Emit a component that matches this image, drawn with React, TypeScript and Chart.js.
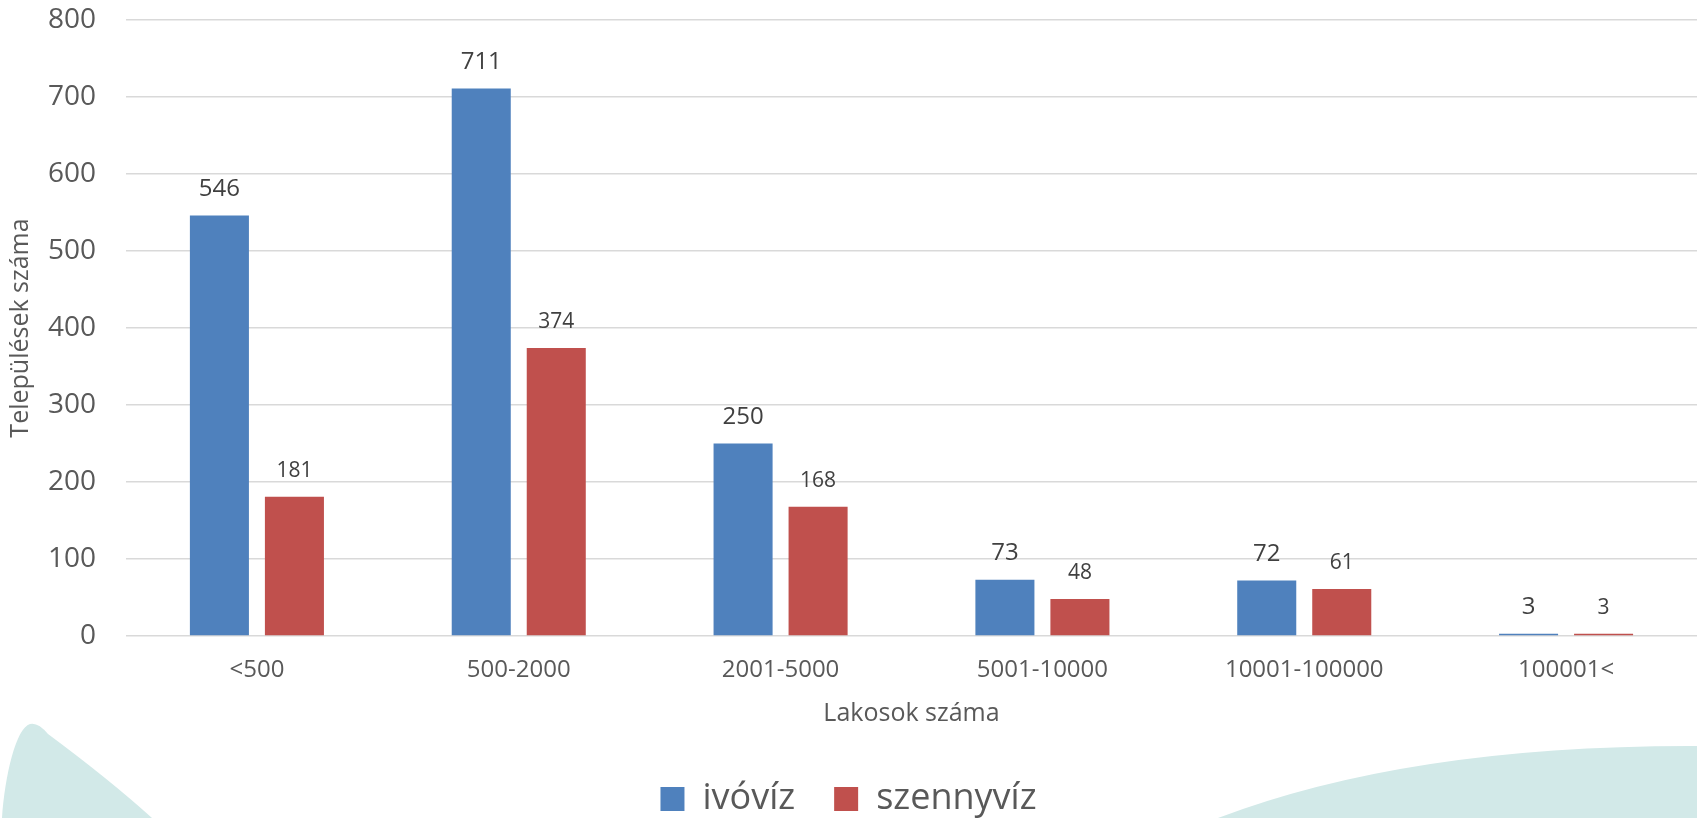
import React, { useEffect, useRef } from "react";
import { Chart, registerables } from "chart.js";

Chart.register(...registerables);

const categories = ["<500", "500-2000", "2001-5000", "5001-10000", "10001-100000", "100001<"];
const ivovizValues = [546, 711, 250, 73, 72, 3];
const szennyvizValues = [181, 374, 168, 48, 61, 3];
const seriesNames = ["ivóvíz", "szennyvíz"];
const yTitle = "Települések száma";
const xTitle = "Lakosok száma";

const W = 1697;
const H = 818;
const FONT = "'Open Sans', 'Noto Sans', sans-serif";

const backgroundPlugin = {
  id: "bgShapes",
  beforeDraw(chart: any) {
    const ctx = chart.ctx;
    ctx.save();
    ctx.fillStyle = "#ffffff";
    ctx.fillRect(0, 0, chart.width, chart.height);
    ctx.fillStyle = "#d2e9e8";
    // left wave
    ctx.beginPath();
    ctx.moveTo(2, 818);
    ctx.bezierCurveTo(5, 775, 16, 728, 30, 724);
    ctx.quadraticCurveTo(38, 722, 48, 734);
    ctx.quadraticCurveTo(110, 780, 152, 818);
    ctx.closePath();
    ctx.fill();
    // right curve
    ctx.beginPath();
    ctx.moveTo(1218, 818);
    ctx.quadraticCurveTo(1410, 745, 1697, 746);
    ctx.lineTo(1697, 818);
    ctx.closePath();
    ctx.fill();
    ctx.restore();
  },
};

const dataLabelPlugin = {
  id: "valueLabels",
  afterDatasetsDraw(chart: any) {
    const ctx = chart.ctx;
    ctx.save();
    ctx.fillStyle = "#404040";
    ctx.textAlign = "center";
    ctx.textBaseline = "alphabetic";
    chart.data.datasets.forEach((ds: any, di: number) => {
      const meta = chart.getDatasetMeta(di);
      ctx.font = `${di === 0 ? 24 : 21}px ${FONT}`;
      meta.data.forEach((el: any, i: number) => {
        ctx.fillText(String(ds.data[i]), el.x, el.y - 20);
      });
    });
    ctx.restore();
  },
};

export default function App() {
  const ref = useRef<HTMLCanvasElement>(null);
  useEffect(() => {
    if (!ref.current) return;
    const chart = new Chart(ref.current, {
      type: "bar",
      data: {
        labels: categories,
        datasets: [
          {
            label: seriesNames[0],
            data: ivovizValues,
            backgroundColor: "#4f81bd",
            borderWidth: 0,
            categoryPercentage: 0.573,
            barPercentage: 0.787,
          },
          {
            label: seriesNames[1],
            data: szennyvizValues,
            backgroundColor: "#c0504d",
            borderWidth: 0,
            categoryPercentage: 0.573,
            barPercentage: 0.787,
          },
        ],
      },
      options: {
        responsive: false,
        animation: false,
        devicePixelRatio: 1,
        layout: { padding: { top: 20, left: 0, right: 0, bottom: -9 } },
        font: { family: FONT },
        plugins: {
          tooltip: { enabled: false },
          legend: {
            position: "bottom",
            labels: {
              boxWidth: 24,
              boxHeight: 24,
              padding: 39,
              color: "#595959",
              font: { size: 36, family: FONT },
            },
          },
        },
        scales: {
          x: {
            grid: { display: false, drawTicks: false },
            border: { display: false },
            ticks: {
              color: "#595959",
              font: { size: 24, family: FONT },
              padding: 20,
              maxRotation: 0,
              autoSkip: false,
            },
            title: {
              display: true,
              text: xTitle,
              color: "#595959",
              font: { size: 25, family: FONT },
              padding: { top: 0, bottom: 13 },
            },
            afterFit(scale: any) {
              scale.height = 106;
              scale.paddingLeft = 0;
              scale.paddingRight = 0;
            },
          },
          y: {
            min: 0,
            max: 800,
            grid: { color: "#d9d9d9", lineWidth: 1.5, drawTicks: false },
            border: { display: false },
            ticks: {
              stepSize: 100,
              color: "#595959",
              font: { size: 28, family: FONT },
              padding: 30,
            },
            title: {
              display: true,
              text: yTitle,
              color: "#595959",
              font: { size: 25, family: FONT },
              padding: { top: 6, bottom: 0 },
            },
            afterFit(scale: any) {
              scale.width = 126;
              scale.paddingTop = 0;
              scale.paddingBottom = 0;
            },
          },
        },
      },
      plugins: [backgroundPlugin, dataLabelPlugin],
    } as any);
    return () => chart.destroy();
  }, []);
  return (
    <div style={{ position: "fixed", left: 0, top: 0, width: W, height: H }}>
      <canvas ref={ref} width={W} height={H} style={{ width: W, height: H, display: "block" }} />
    </div>
  );
}
